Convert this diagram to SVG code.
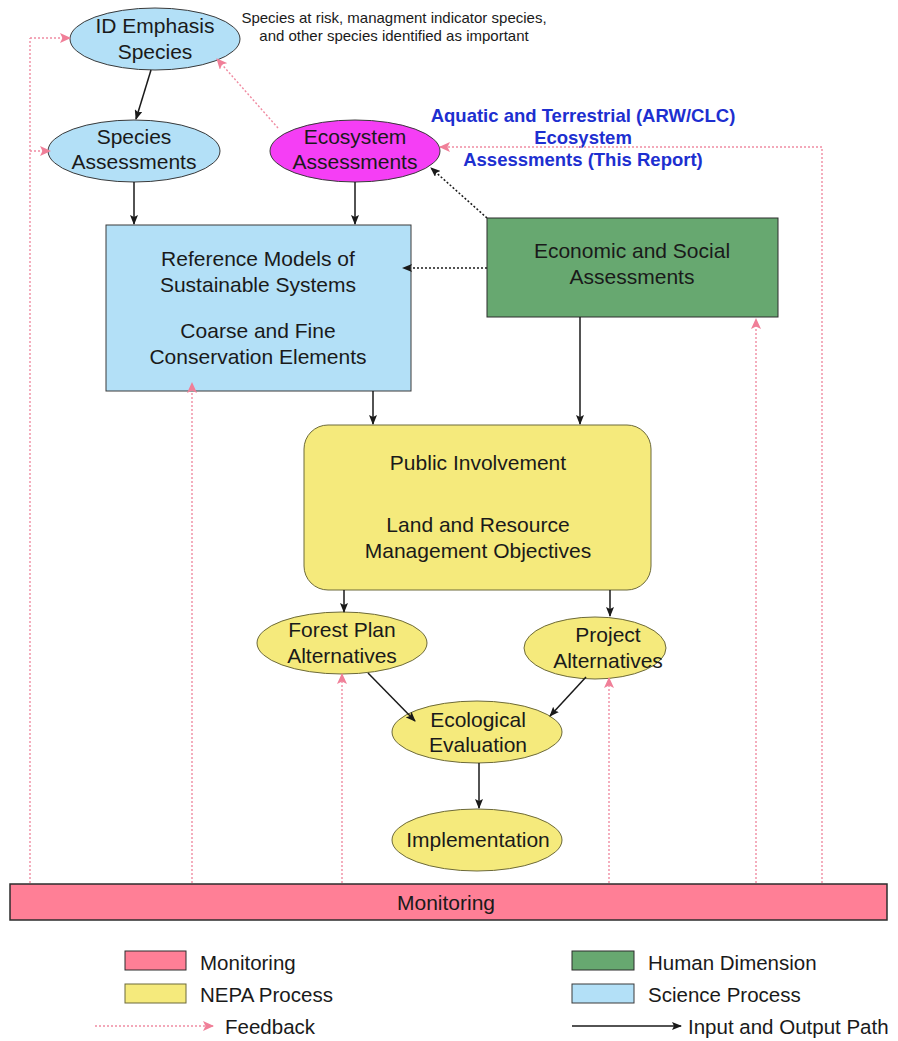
<svg xmlns="http://www.w3.org/2000/svg" width="898" height="1041" viewBox="0 0 898 1041">
<style>
text{font-family:"Liberation Sans",Arial,sans-serif;fill:#1a1a1a}
.n{font-size:21px;text-anchor:middle}
.lg{font-size:20.5px}
.blue{fill:#1d2fd0;font-weight:bold;font-size:18.5px;text-anchor:middle}
.sci{fill:#b3e0f7;stroke:#3a3a3a;stroke-width:1}
.nepa{fill:#f5ea7c;stroke:#6d6a3a;stroke-width:1}
.hum{fill:#67a870;stroke:#2d2d2d;stroke-width:1}
.mon{fill:#ff7f96;stroke:#2d2d2d;stroke-width:1.5}
.io{stroke:#1a1a1a;stroke-width:1.5;fill:none;marker-end:url(#ah)}
.dot{stroke:#1a1a1a;stroke-width:1.5;fill:none;stroke-dasharray:2 2;marker-end:url(#ah)}
.fb{stroke:#f08ca2;stroke-width:1.4;fill:none;stroke-dasharray:2 2}
.fba{stroke:#f08ca2;stroke-width:1.4;fill:none;stroke-dasharray:2 2;marker-end:url(#ph)}
</style>
<defs>
<marker id="ah" markerWidth="10" markerHeight="8" refX="9" refY="4" orient="auto" markerUnits="userSpaceOnUse"><path d="M0,0 L10,4 L0,8 L2,4 z" fill="#1a1a1a"/></marker>
<marker id="ph" markerWidth="11" markerHeight="10" refX="10" refY="5" orient="auto" markerUnits="userSpaceOnUse"><path d="M0,0 L11,5 L0,10 L2.5,5 z" fill="#f07f98"/></marker>
</defs>
<rect width="898" height="1041" fill="#fff"/>

<g id="id-emphasis">
<ellipse class="sci" cx="155" cy="39" rx="85" ry="31"/>
<text class="n" x="155" y="33">ID Emphasis</text>
<text class="n" x="155" y="59">Species</text>
</g>
<g id="annotation">
<text x="394" y="23" style="font-size:15px;text-anchor:middle">Species at risk, managment indicator species,</text>
<text x="394" y="41" style="font-size:15px;text-anchor:middle">and other species identified as important</text>
</g>
<g id="species-assessments">
<ellipse class="sci" cx="134" cy="151" rx="86" ry="31"/>
<text class="n" x="134" y="144">Species</text>
<text class="n" x="134" y="169">Assessments</text>
</g>
<g id="ecosystem-assessments">
<ellipse cx="355" cy="151" rx="85" ry="31" fill="#f53ef5" stroke="#3a3a3a" stroke-width="1"/>
<text class="n" x="355" y="144">Ecosystem</text>
<text class="n" x="355" y="169">Assessments</text>
</g>
<g id="report-label">
<text class="blue" x="583" y="122">Aquatic and Terrestrial (ARW/CLC)</text>
<text class="blue" x="583" y="144">Ecosystem</text>
<text class="blue" x="583" y="166">Assessments (This Report)</text>
</g>
<g id="reference-models">
<rect class="sci" x="106" y="225" width="305" height="166"/>
<text class="n" x="258" y="266">Reference Models of</text>
<text class="n" x="258" y="292">Sustainable Systems</text>
<text class="n" x="258" y="338">Coarse and Fine</text>
<text class="n" x="258" y="364">Conservation Elements</text>
</g>
<g id="economic-social">
<rect class="hum" x="487" y="218" width="291" height="99"/>
<text class="n" x="632" y="258">Economic and Social</text>
<text class="n" x="632" y="284">Assessments</text>
</g>
<g id="public-involvement">
<rect class="nepa" x="304" y="425" width="347" height="165" rx="24"/>
<text class="n" x="478" y="470">Public Involvement</text>
<text class="n" x="478" y="532">Land and Resource</text>
<text class="n" x="478" y="558">Management Objectives</text>
</g>
<g id="forest-plan">
<ellipse class="nepa" cx="342" cy="643" rx="85" ry="31"/>
<text class="n" x="342" y="637">Forest Plan</text>
<text class="n" x="342" y="663">Alternatives</text>
</g>
<g id="project-alternatives">
<ellipse class="nepa" cx="595" cy="648" rx="71" ry="31"/>
<text class="n" x="608" y="642">Project</text>
<text class="n" x="608" y="668">Alternatives</text>
</g>
<g id="ecological-evaluation">
<ellipse class="nepa" cx="477" cy="732" rx="85" ry="31"/>
<text class="n" x="478" y="727">Ecological</text>
<text class="n" x="478" y="752">Evaluation</text>
</g>
<g id="implementation">
<ellipse class="nepa" cx="477" cy="840" rx="85" ry="31"/>
<text class="n" x="478" y="847">Implementation</text>
</g>
<g id="monitoring">
<rect class="mon" x="10" y="884" width="877" height="36"/>
<text class="n" x="446" y="910">Monitoring</text>
</g>

<g id="connectors">
<line class="io" x1="151" y1="70" x2="136" y2="119"/>
<line class="io" x1="134" y1="182" x2="134" y2="224"/>
<line class="io" x1="355" y1="182" x2="355" y2="224"/>
<line class="dot" x1="487" y1="268" x2="403" y2="268"/>
<line class="dot" x1="487" y1="218" x2="431" y2="168"/>
<line class="io" x1="373" y1="391" x2="373" y2="424"/>
<line class="io" x1="580" y1="317" x2="580" y2="424"/>
<line class="io" x1="344" y1="590" x2="344" y2="612"/>
<line class="io" x1="610" y1="590" x2="610" y2="616"/>
<line class="io" x1="368" y1="673" x2="415" y2="721"/>
<line class="io" x1="586" y1="677" x2="550" y2="716"/>
<line class="io" x1="479" y1="763" x2="479" y2="808"/>
<path class="fb" d="M30,883 V38"/>
<line class="fba" x1="30" y1="38" x2="70" y2="38"/>
<line class="fba" x1="30" y1="151" x2="50" y2="151"/>
<line class="fba" x1="192" y1="883" x2="192" y2="383"/>
<line class="fba" x1="342" y1="883" x2="342" y2="674"/>
<line class="fba" x1="609" y1="883" x2="609" y2="678"/>
<line class="fba" x1="756" y1="883" x2="756" y2="319"/>
<path class="fba" d="M822,883 V147 H440"/>
<line class="fba" x1="278" y1="128" x2="217" y2="59"/>
</g>

<g id="legend">
<rect class="mon" x="125" y="951" width="61" height="19" style="stroke-width:1"/>
<text class="lg" x="200" y="970">Monitoring</text>
<rect class="nepa" x="125" y="984" width="61" height="19"/>
<text class="lg" x="200" y="1002">NEPA Process</text>
<line class="fba" x1="95" y1="1026" x2="213" y2="1026"/>
<text class="lg" x="225" y="1034">Feedback</text>
<rect class="hum" x="572" y="951" width="62" height="19"/>
<text class="lg" x="648" y="970">Human Dimension</text>
<rect class="sci" x="572" y="984" width="62" height="19"/>
<text class="lg" x="648" y="1002">Science Process</text>
<line class="io" x1="572" y1="1026" x2="681" y2="1026"/>
<text class="lg" x="688" y="1034">Input and Output Path</text>
</g>
</svg>
